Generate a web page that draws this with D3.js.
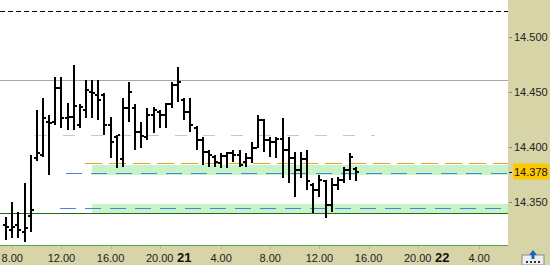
<!DOCTYPE html>
<html>
<head>
<meta charset="utf-8">
<script src="https://cdn.jsdelivr.net/npm/d3@7"></script>
<style>
  body { margin: 0; background: #d7d4a8; }
  svg { display: block; }
  text { font-family: "Liberation Sans", Arial, sans-serif; }
</style>
</head>
<body>
<div id="chart"></div>
<script>
// half-hour bars, index 0 = 7.30
const opens  = [14.329,14.325,14.329,14.323,14.338,14.390,14.393,14.423,14.423,14.454,
                14.427,14.428,14.420,14.434,14.450,14.448,14.448,14.420,14.409,14.389,
                14.436,14.436,14.414,14.409,14.429,14.432,14.429,14.439,14.457,14.443,
                14.432,14.418,14.407,14.396,14.391,14.386,14.392,14.395,14.393,14.387,
                14.390,14.399,14.425,14.407,14.405,14.408,14.398,14.390,14.379,14.389,
                14.366,14.361,14.369,14.348,14.366,14.370,14.379,14.380];
const highs  = [14.337,14.350,14.341,14.368,14.393,14.434,14.445,14.429,14.464,14.464,
                14.440,14.475,14.439,14.461,14.461,14.461,14.449,14.428,14.411,14.445,
                14.459,14.439,14.423,14.436,14.437,14.434,14.440,14.459,14.473,14.445,
                14.445,14.419,14.409,14.398,14.393,14.395,14.396,14.398,14.398,14.395,
                14.405,14.429,14.426,14.409,14.409,14.427,14.409,14.396,14.396,14.398,
                14.368,14.375,14.370,14.372,14.373,14.382,14.395,14.382];
const lows   = [14.316,14.318,14.318,14.314,14.323,14.388,14.391,14.375,14.420,14.418,
                14.416,14.416,14.418,14.427,14.427,14.425,14.411,14.390,14.381,14.382,
                14.423,14.398,14.399,14.407,14.413,14.418,14.418,14.436,14.441,14.425,
                14.414,14.398,14.384,14.382,14.382,14.381,14.381,14.387,14.382,14.382,
                14.386,14.399,14.396,14.391,14.390,14.372,14.368,14.355,14.372,14.361,
                14.340,14.355,14.336,14.341,14.361,14.368,14.370,14.369];
const closes = [14.328,14.328,14.325,14.327,14.343,14.395,14.427,14.422,14.454,14.427,
                14.428,14.438,14.437,14.452,14.449,14.443,14.420,14.405,14.411,14.436,
                14.450,14.414,14.410,14.429,14.434,14.429,14.439,14.457,14.459,14.432,
                14.420,14.407,14.396,14.393,14.387,14.392,14.395,14.393,14.384,14.390,
                14.399,14.425,14.407,14.405,14.408,14.398,14.390,14.379,14.389,14.369,
                14.361,14.370,14.348,14.366,14.370,14.379,14.391,14.378];

const xTickIdx    = [1, 9, 17, 25, 35, 43, 51, 59, 67, 77];
const xTickLabels = ["8.00","12.00","16.00","20.00","4.00","8.00","12.00","16.00","20.00","4.00"];
const dayIdx      = [29, 71];
const dayLabels   = ["21", "22"];
const yTicks      = [14.350, 14.400, 14.450, 14.500];

// levels drawn on the chart
const topDashLevel  = 14.524;
const highLevel     = 14.461;
const midDashLevel  = 14.411;
const orangeLevel   = 14.386;
const blueLevels    = [14.377, 14.345];
const greenBands    = [[14.3748, 14.3839], [14.3403, 14.3485]];
const supportLevel  = 14.340;
const lastPrice     = 14.378;

const W = 550, H = 265;
const plotW = 508, plotH = 246;

const svg = d3.select("#chart")
  .append("svg")
  .attr("width", W)
  .attr("height", H);

svg.append("rect").attr("width", W).attr("height", H).attr("fill", "#d7d4a8");
svg.append("rect").attr("width", plotW).attr("height", plotH).attr("fill", "#ffffff");

const x = d3.scaleLinear().domain([-1, 81.7]).range([0, plotW]);
const y = d3.scaleLinear().domain([14.3103, 14.5339]).range([plotH, 0]);
const px = i => Math.round(x(i));
const py = v => Math.round(y(v));

const plot = svg.append("g").attr("shape-rendering", "crispEdges");

// green zones
plot.selectAll(".band")
  .data(greenBands)
  .enter().append("rect")
  .attr("x", px(13.9))
  .attr("width", plotW - px(13.9))
  .attr("y", d => py(d[1]))
  .attr("height", d => py(d[0]) - py(d[1]))
  .attr("fill", "#c6f4c6");

function hline(v, x0, x1, color, dash) {
  plot.append("line")
    .attr("x1", x0).attr("x2", x1)
    .attr("y1", py(v) + 0.5).attr("y2", py(v) + 0.5)
    .attr("stroke", color)
    .attr("stroke-width", 1)
    .attr("stroke-dasharray", dash || null);
}

hline(topDashLevel, 0, plotW, "#000", "5,3");
hline(highLevel, 0, plotW, "#a8a8a8");
hline(midDashLevel, px(4.7), px(60), "#c8c8c8", "12,16");
hline(orangeLevel, px(12.9), plotW, "#eea02a", "17,7");
hline(blueLevels[0], px(9.8), plotW, "#4a84e0", "16,9");
hline(blueLevels[1], px(8.8), plotW, "#4a84e0", "16,9");
hline(supportLevel, 0, plotW, "#1d6b1d");
hline(y.invert(plotH - 1), 0, plotW, "#58a858");

// OHLC bars
const bars = d3.range(opens.length);
plot.selectAll(".bar")
  .data(bars)
  .enter().append("rect")
  .attr("class", "bar")
  .attr("x", i => px(i) - 1)
  .attr("width", 2)
  .attr("y", i => py(highs[i]))
  .attr("height", i => py(lows[i]) - py(highs[i]))
  .attr("fill", "#000");

plot.selectAll(".open")
  .data(bars)
  .enter().append("rect")
  .attr("x", i => px(i) - 3)
  .attr("width", 2)
  .attr("y", i => py(opens[i]) - 1)
  .attr("height", 2)
  .attr("fill", "#000");

plot.selectAll(".close")
  .data(bars)
  .enter().append("rect")
  .attr("x", i => px(i) + 1)
  .attr("width", 2)
  .attr("y", i => py(closes[i]) - 1)
  .attr("height", 2)
  .attr("fill", "#000");

// right price axis
const yAxis = svg.append("g");
yAxis.selectAll("line")
  .data(yTicks)
  .enter().append("line")
  .attr("x1", plotW + 1).attr("x2", plotW + 4)
  .attr("y1", d => py(d) + 0.5).attr("y2", d => py(d) + 0.5)
  .attr("stroke", "#888");
yAxis.selectAll("text")
  .data(yTicks)
  .enter().append("text")
  .attr("x", plotW + 6)
  .attr("y", d => y(d) + 4)
  .attr("font-size", 11)
  .attr("fill", "#222")
  .text(d => d3.format(".3f")(d));

// last price marker
svg.append("line")
  .attr("x1", plotW + 1).attr("x2", plotW + 4)
  .attr("y1", py(lastPrice) + 0.5).attr("y2", py(lastPrice) + 0.5)
  .attr("stroke", "#000");
svg.append("rect")
  .attr("x", plotW + 5).attr("y", y(lastPrice) - 8)
  .attr("width", 36).attr("height", 16)
  .attr("fill", "#fcc800");
svg.append("text")
  .attr("x", plotW + 6).attr("y", y(lastPrice) + 4)
  .attr("font-size", 11)
  .attr("fill", "#111")
  .text(d3.format(".3f")(lastPrice));

// time axis
const xAxis = svg.append("g");
xAxis.selectAll("line")
  .data(xTickIdx)
  .enter().append("line")
  .attr("x1", i => px(i) + 0.5).attr("x2", i => px(i) + 0.5)
  .attr("y1", plotH).attr("y2", plotH + 3)
  .attr("stroke", "#b8b58c");
xAxis.selectAll(".tl")
  .data(xTickIdx)
  .enter().append("text")
  .attr("x", i => x(i))
  .attr("y", 262)
  .attr("text-anchor", "middle")
  .attr("font-size", 11)
  .attr("fill", "#222")
  .text((d, k) => xTickLabels[k]);
xAxis.selectAll(".day")
  .data(dayIdx)
  .enter().append("text")
  .attr("x", i => x(i))
  .attr("y", 262)
  .attr("text-anchor", "middle")
  .attr("font-size", 13)
  .attr("font-weight", "bold")
  .attr("fill", "#111")
  .text((d, k) => dayLabels[k]);

// little toolbar icon bottom right
const icon = svg.append("g").attr("transform", "translate(522,250)");
icon.append("rect").attr("x", 0).attr("y", 5).attr("width", 22).attr("height", 10)
  .attr("fill", "#eeeeee").attr("stroke", "#8a8a8a");
icon.append("path").attr("d", "M11,0 L15,5 L12.5,5 L12.5,9 L9.5,9 L9.5,5 L7,5 Z").attr("fill", "#2060c0");
icon.selectAll(".dot").data([4, 8, 12, 16]).enter().append("rect")
  .attr("x", d => d).attr("y", 11).attr("width", 2).attr("height", 2).attr("fill", "#333");
</script>
</body>
</html>
